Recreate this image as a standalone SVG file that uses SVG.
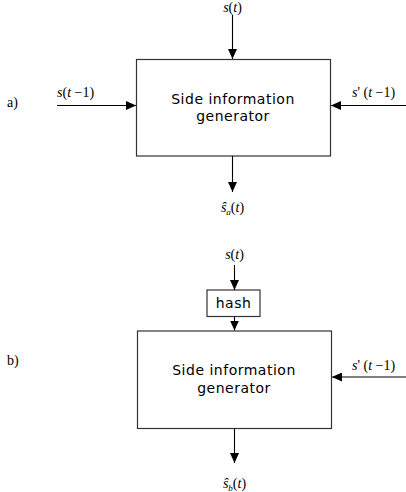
<svg xmlns="http://www.w3.org/2000/svg" width="406" height="492" viewBox="0 0 406 492">
  <style>
    .box { fill: #fff; stroke: #333; stroke-width: 1.2; }
    .wire { stroke: #000; stroke-width: 1.1; fill: none; marker-end: url(#head); }
    .lbl { font-family: "DejaVu Sans", Verdana, sans-serif; font-size: 14px; letter-spacing: 0.5px; fill: #000; text-anchor: middle; }
    .math { font-family: "Liberation Serif", "Times New Roman", serif; font-size: 14px; fill: #000; }
    .it { font-style: italic; }
    .tag { font-family: "Liberation Serif", "Times New Roman", serif; font-size: 14px; fill: #000; }
  </style>
  <defs>
    <marker id="head" markerWidth="9" markerHeight="9" refX="10" refY="4.5" orient="auto" markerUnits="userSpaceOnUse">
      <path d="M0,0 L10,4.5 L0,9 Z" fill="#000"/>
    </marker>
  </defs>

  <!-- panel a -->
  <text class="tag" x="7" y="107">a)</text>
  <g id="gen-a">
    <rect class="box" x="136.5" y="59.5" width="194" height="96.5"/>
    <text class="lbl" x="233" y="104">Side information</text>
    <text class="lbl" x="233" y="121">generator</text>
  </g>

  <!-- panel b -->
  <text class="tag" x="7" y="365">b)</text>
  <g id="hash-b">
    <rect class="box" x="207" y="290" width="53" height="26.5"/>
    <text class="lbl" x="233.5" y="308">hash</text>
  </g>
  <g id="gen-b">
    <rect class="box" x="137.5" y="331" width="194" height="97.5"/>
    <text class="lbl" x="234" y="375">Side information</text>
    <text class="lbl" x="234" y="393">generator</text>
  </g>

  <g id="connectors">
    <!-- panel a -->
    <line class="wire" x1="232.5" y1="15" x2="232.5" y2="59"/>
    <line class="wire" x1="57" y1="105.5" x2="136" y2="105.5"/>
    <line class="wire" x1="406" y1="105.5" x2="331" y2="105.5"/>
    <line class="wire" x1="232.5" y1="156" x2="232.5" y2="192"/>
    <!-- panel b -->
    <line class="wire" x1="234.5" y1="265" x2="234.5" y2="290"/>
    <line class="wire" x1="234.5" y1="316.5" x2="234.5" y2="330.5"/>
    <line class="wire" x1="406" y1="377" x2="332" y2="377"/>
    <line class="wire" x1="234.5" y1="428.5" x2="234.5" y2="463"/>
  </g>

  <!-- signal labels -->
  <text class="math" x="232.5" y="12" text-anchor="middle"><tspan class="it">s</tspan>(<tspan class="it">t</tspan>)</text>
  <text class="math" x="57" y="97"><tspan class="it">s</tspan>(<tspan class="it">t</tspan> −1)</text>
  <text class="math" x="352" y="97"><tspan class="it">s</tspan>' (<tspan class="it">t</tspan> −1)</text>
  <text class="math" x="232.5" y="212" text-anchor="middle"><tspan class="it">ŝ</tspan><tspan class="it" font-size="9" dy="3">a</tspan><tspan dy="-3">(</tspan><tspan class="it">t</tspan>)</text>

  <text class="math" x="234.5" y="259" text-anchor="middle"><tspan class="it">s</tspan>(<tspan class="it">t</tspan>)</text>
  <text class="math" x="352" y="370"><tspan class="it">s</tspan>' (<tspan class="it">t</tspan> −1)</text>
  <text class="math" x="234.5" y="488" text-anchor="middle"><tspan class="it">ŝ</tspan><tspan class="it" font-size="9" dy="3">b</tspan><tspan dy="-3">(</tspan><tspan class="it">t</tspan>)</text>
</svg>
